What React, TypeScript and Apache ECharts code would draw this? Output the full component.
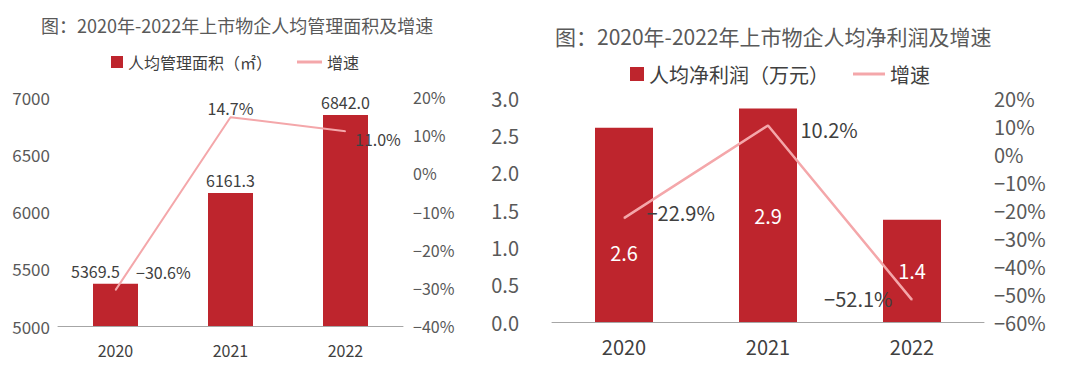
import React, { useEffect, useRef } from "react";
import * as echarts from "echarts";

const years = ["2020", "2021", "2022"];
const areaValues = [5369.5, 6161.3, 6842.0];
const areaGrowth = [-30.6, 14.7, 11.0];
const profitValues = [2.6, 2.86, 1.37];
const profitGrowth = [-22.9, 10.2, -52.1];

const titleLeft = "图：2020年-2022年上市物企人均管理面积及增速";
const titleRight = "图：2020年-2022年上市物企人均净利润及增速";
const areaName = "人均管理面积（㎡）";
const profitName = "人均净利润（万元）";
const growthName = "增速";

const BAR = "#BE252D";
const LINE = "#F4A7AA";
const FONT = "'Noto Sans CJK SC', 'Noto Sans', sans-serif";

const pct = (v: number, d = 0) => (v < 0 ? "\u2212" : "") + Math.abs(v).toFixed(d) + "%";

export default function App() {
  const ref = useRef<HTMLDivElement>(null);
  useEffect(() => {
    const chart = echarts.init(ref.current!, undefined, { renderer: "svg" });

    const leftBarLabels = [{ offset: [-20, 0] }, {}, {}];
    const leftLineLabels = [
      { position: "right", distance: 20, offset: [0, -18] },
      { position: "top", distance: 1 },
      { position: "right", distance: 9, offset: [0, 8] },
    ];
    const rightBarLabels = [{ offset: [0, 28] }, {}, {}];
    const rightLineLabels = [
      { position: "right", distance: 22, offset: [0, -6] },
      { position: "right", distance: 32, offset: [0, 4] },
      { position: "left", distance: 19, offset: [0, -1] },
    ];

    const axisLbl = (size: number) => ({ color: "#595959", fontSize: size, fontFamily: FONT });
    const xAxisCommon = {
      type: "category",
      data: years,
      axisLine: { onZero: false, lineStyle: { color: "#A6A6A6" } },
      axisTick: { length: 4, lineStyle: { color: "#A6A6A6" } },
    };
    const yHidden = { type: "value", splitLine: { show: false }, axisLine: { show: false }, axisTick: { show: false } };

    chart.setOption({
      animation: false,
      textStyle: { fontFamily: FONT },
      title: [
        { text: titleLeft, left: 36, top: 11, textStyle: { fontSize: 18, fontWeight: "normal", color: "#595959", fontFamily: FONT } },
        { text: titleRight, left: 550, top: 20, textStyle: { fontSize: 21, fontWeight: "normal", color: "#595959", fontFamily: FONT } },
      ],
      legend: [
        { left: 111, top: 54, padding: 0, itemWidth: 12, itemHeight: 12, data: [{ name: areaName, icon: "rect" }], textStyle: { fontSize: 16, color: "#404040", fontFamily: FONT } },
        { left: 297, top: 54, padding: 0, itemWidth: 25, itemHeight: 3, data: [{ name: growthName, icon: "rect" }], textStyle: { fontSize: 16, color: "#404040", fontFamily: FONT } },
        { left: 630, top: 64, padding: 0, itemWidth: 14, itemHeight: 14, data: [{ name: profitName, icon: "rect" }], textStyle: { fontSize: 20, color: "#404040", fontFamily: FONT } },
        { left: 853, top: 64, padding: 0, itemWidth: 32, itemHeight: 3, data: [{ name: growthName, icon: "rect" }], textStyle: { fontSize: 20, color: "#404040", fontFamily: FONT } },
      ],
      grid: [
        { left: 58, right: 677, top: 97, bottom: 39 },
        { left: 552, right: 96, top: 98, bottom: 43 },
      ],
      xAxis: [
        { ...xAxisCommon, gridIndex: 0, axisLabel: { ...axisLbl(16), color: "#404040", margin: 16 } },
        { ...xAxisCommon, gridIndex: 1, axisLabel: { ...axisLbl(20), color: "#404040", margin: 14 } },
      ],
      yAxis: [
        { ...yHidden, gridIndex: 0, min: 5000, max: 7000, interval: 500, axisLabel: { ...axisLbl(17), margin: 8, formatter: (v: number) => String(v) } },
        { ...yHidden, gridIndex: 0, position: "right", min: -40, max: 20, interval: 10, axisLabel: { ...axisLbl(16), margin: 10, formatter: (v: number) => pct(v) } },
        { ...yHidden, gridIndex: 1, min: 0, max: 3, interval: 0.5, axisLabel: { ...axisLbl(20), margin: 33, formatter: (v: number) => v.toFixed(1) } },
        { ...yHidden, gridIndex: 1, position: "right", min: -60, max: 20, interval: 10, axisLabel: { ...axisLbl(20), margin: 10, formatter: (v: number) => pct(v) } },
      ],
      series: [
        {
          name: areaName, type: "bar", xAxisIndex: 0, yAxisIndex: 0, barWidth: 45,
          itemStyle: { color: BAR },
          label: { show: true, position: "top", distance: 5, color: "#404040", fontSize: 16, formatter: (p: any) => Number(p.value).toFixed(1) },
          data: areaValues.map((v, i) => ({ value: v, label: leftBarLabels[i] })),
        },
        {
          name: growthName, type: "line", xAxisIndex: 0, yAxisIndex: 1,
          symbol: "circle", symbolSize: 1, itemStyle: { color: LINE },
          lineStyle: { color: LINE, width: 2 },
          label: { show: true, color: "#404040", fontSize: 16, formatter: (p: any) => pct(Number(p.value), 1) },
          data: areaGrowth.map((v, i) => ({ value: v, label: leftLineLabels[i] })),
        },
        {
          name: profitName, type: "bar", xAxisIndex: 1, yAxisIndex: 2, barWidth: 58,
          itemStyle: { color: BAR },
          label: { show: true, position: "inside", color: "#FFFFFF", fontSize: 20, formatter: (p: any) => Number(p.value).toFixed(1) },
          data: profitValues.map((v, i) => ({ value: v, label: rightBarLabels[i] })),
        },
        {
          name: growthName, type: "line", xAxisIndex: 1, yAxisIndex: 3,
          symbol: "circle", symbolSize: 1, itemStyle: { color: LINE },
          lineStyle: { color: LINE, width: 2.5 },
          label: { show: true, color: "#404040", fontSize: 20, formatter: (p: any) => pct(Number(p.value), 1) },
          data: profitGrowth.map((v, i) => ({ value: v, label: rightLineLabels[i] })),
        },
      ],
    });
    return () => chart.dispose();
  }, []);
  return <div ref={ref} style={{ position: "fixed", left: 0, top: 0, width: 1080, height: 365, background: "#fff" }} />;
}
